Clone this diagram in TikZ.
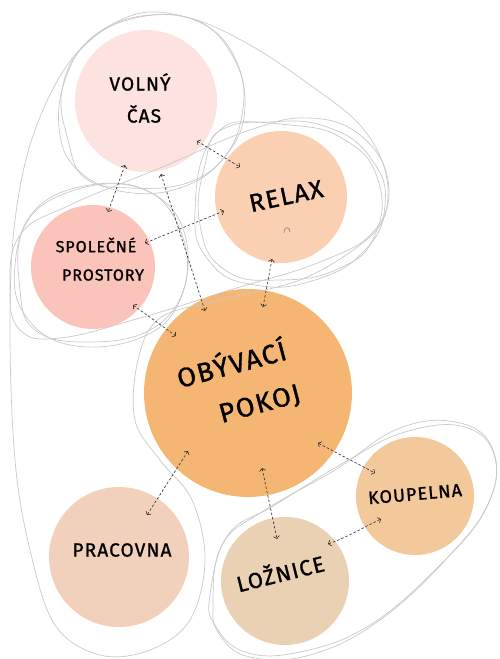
\documentclass[tikz,border=0pt]{standalone}
\usepackage{fontspec}
\setmainfont{Fira Sans}
\newfontfamily\hand{Fira Sans}[FakeBold=1.2, LetterSpace=6]
\usetikzlibrary{arrows.meta}
\definecolor{vcol}{HTML}{FDE3DF}
\definecolor{rcol}{HTML}{FBCFB2}
\definecolor{scol}{HTML}{FBC4BB}
\definecolor{ocol}{HTML}{F5B673}
\definecolor{kcol}{HTML}{F3C89B}
\definecolor{lcol}{HTML}{EBD1B4}
\definecolor{pcol}{HTML}{F1D1BB}
\definecolor{loopcol}{HTML}{C9C9C9}
\tikzset{
  room/.style={circle, draw=none, inner sep=0pt},
  loopline/.style={draw=loopcol, line width=0.7pt},
  conn/.style={draw=black!80, line width=0.65pt, dash pattern=on 2.5pt off 2pt,
    {Straight Barb[length=2.5pt,width=6pt]}-{Straight Barb[length=2.5pt,width=6pt]}},
  lbl/.style={inner sep=0pt, align=center, text=black}
}
\newcommand{\fs}[1]{\hand\fontsize{#1}{#1}\selectfont}
\begin{document}
\begin{tikzpicture}[x=1pt,y=-1pt]
\useasboundingbox (0,0) rectangle (500,659);
% rooms
\node[room, fill=vcol, minimum size=142pt] (vc) at (146,101) {};
\node[room, fill=rcol, minimum size=132pt] (rx) at (281,197) {};
\node[room, fill=scol, minimum size=124pt] (sp) at (93,267) {};
\node[room, fill=ocol, minimum size=208pt] (op) at (248,393) {};
\node[room, fill=kcol, minimum size=118pt] (kp) at (415,496) {};
\node[room, fill=lcol, minimum size=128pt] (lz) at (285,581) {};
\node[room, fill=pcol, minimum size=140pt] (pr) at (119,557) {};
% sketch loops
\draw[loopline] plot[smooth cycle, tension=0.7] coordinates {(60,135) (65,80) (95,35) (150,15) (205,25) (238,65) (242,115) (222,160) (180,188) (125,192) (80,172)};
\draw[loopline] plot[smooth cycle, tension=0.7] coordinates {(68,140) (62,90) (85,45) (135,18) (195,20) (232,55) (245,105) (230,150) (190,182) (130,188) (85,178)};
\draw[loopline] plot[smooth cycle, tension=0.8] coordinates {(215,135) (270,122) (330,128) (372,160) (385,205) (365,250) (315,280) (255,285) (210,262) (195,210)};
\draw[loopline] plot[smooth cycle, tension=0.8] coordinates {(225,128) (290,125) (345,140) (378,180) (375,235) (340,268) (280,280) (225,270) (200,225) (205,165)};
\draw[loopline] plot[smooth cycle, tension=0.7] coordinates {(15,265) (35,210) (90,185) (150,192) (185,235) (180,300) (140,338) (70,345) (25,315)};
\draw[loopline] plot[smooth cycle, tension=0.7] coordinates {(20,290) (25,225) (75,190) (140,188) (178,225) (185,285) (150,330) (85,342) (35,330)};
\draw[loopline] plot[smooth cycle, tension=0.7] coordinates {(10,290) (20,235) (70,205) (160,168) (250,130) (310,118) (360,135) (388,180) (375,230) (320,262) (230,290) (140,318) (60,338) (20,330)};
\draw[loopline] plot[smooth cycle, tension=0.6] coordinates {(133,15) (190,18) (250,45) (310,85) (360,125) (385,170) (385,215) (360,245) (300,280) (220,300) (160,318) (138,360) (135,420) (160,460) (192,500) (205,560) (190,620) (150,650) (100,655) (55,625) (30,550) (15,460) (10,330) (15,220) (35,130) (75,55)};
\draw[loopline] plot[smooth cycle, tension=0.7] coordinates {(213,605) (222,545) (265,510) (335,470) (400,428) (460,423) (493,450) (490,500) (450,555) (380,620) (310,655) (250,657) (220,635)};
\draw[loopline] plot[smooth cycle, tension=0.7] coordinates {(210,595) (228,535) (275,505) (345,462) (405,432) (465,427) (495,458) (485,510) (440,565) (370,625) (300,652) (245,652) (215,625)};
\draw[draw=gray, line width=0.6pt] (284,233) .. controls (284,226) and (290,226) .. (290,232);
% connector end points
\coordinate (vr1) at (197,141); \coordinate (vr2) at (240,167);
\coordinate (vs1) at (125,165); \coordinate (vs2) at (108,212);
\coordinate (vo1) at (161,174); \coordinate (vo2) at (205,311);
\coordinate (rs1) at (224,211); \coordinate (rs2) at (145,243);
\coordinate (ro1) at (272,259); \coordinate (ro2) at (263,307);
\coordinate (so1) at (133,305); \coordinate (so2) at (176,336);
\coordinate (op1) at (188,451); \coordinate (op2) at (147,515);
\coordinate (ol1) at (262,468); \coordinate (ol2) at (277,539);
\coordinate (ok1) at (318,443); \coordinate (ok2) at (375,473);
\coordinate (lk1) at (328,544); \coordinate (lk2) at (381,519);
% connectors
\draw[conn] (vr1) -- (vr2);
\draw[conn] (vs1) -- (vs2);
\draw[conn] (vo1) -- (vo2);
\draw[conn] (rs1) -- (rs2);
\draw[conn] (ro1) -- (ro2);
\draw[conn] (so1) -- (so2);
\draw[conn] (op1) -- (op2);
\draw[conn] (ol1) -- (ol2);
\draw[conn] (ok1) -- (ok2);
\draw[conn] (lk1) .. controls (350,536) and (362,528) .. (lk2);
% labels
\node[lbl, font=\fs{19}] (t1) at (140,82) {VOLNÝ};
\node[lbl, font=\fs{19}] (t2) at (144,114) {ČAS};
\node[lbl, font=\fs{16}] (t3) at (96,245) {SPOLEČNÉ};
\node[lbl, font=\fs{16}] (t4) at (103,275) {PROSTORY};
\node[lbl, font=\fs{25}, rotate=12] (t5) at (286,196) {RELAX};
\node[lbl, font=\fs{27}, rotate=15] (t6) at (231,362) {OBÝVACÍ};
\node[lbl, font=\fs{27}, rotate=15] (t7) at (260,405) {POKOJ};
\node[lbl, font=\fs{19}] (t8) at (122,550) {PRACOVNA};
\node[lbl, font=\fs{22}, rotate=14] (t9) at (280,572) {LOŽNICE};
\node[lbl, font=\fs{18}, rotate=5] (t10) at (415,494) {KOUPELNA};
\end{tikzpicture}
\end{document}
